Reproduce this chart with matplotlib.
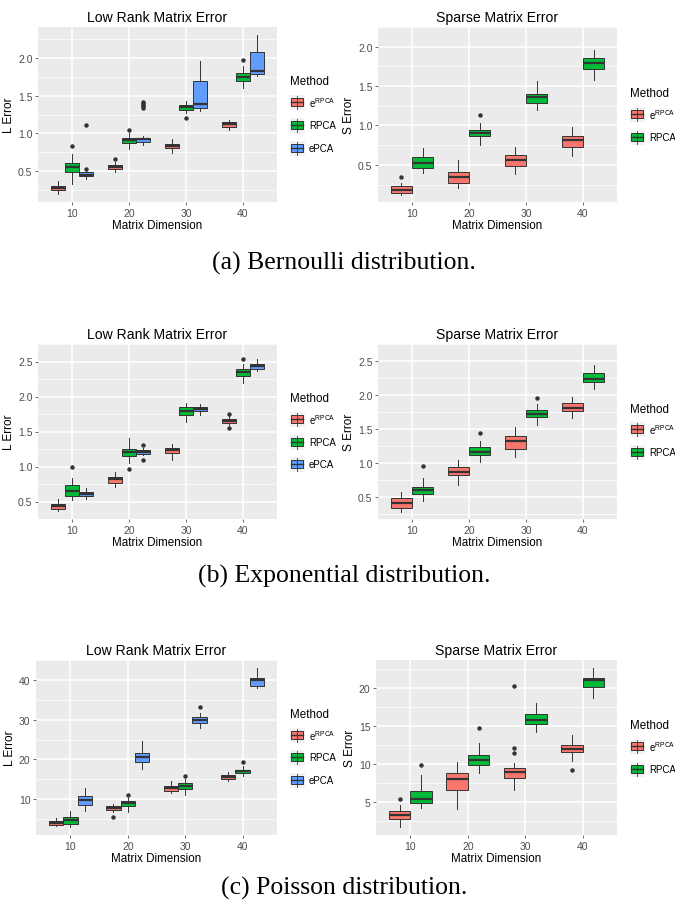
import matplotlib
matplotlib.use('Agg')
import matplotlib.pyplot as plt
from matplotlib.patches import Rectangle
from matplotlib.lines import Line2D

plt.rcParams['font.family'] = ['Liberation Sans', 'DejaVu Sans']
plt.rcParams['mathtext.fontset'] = 'custom'
plt.rcParams['mathtext.rm'] = 'Liberation Sans'

W, H = 675, 903

dims = ['10', '20', '30', '40']
colors = {'eRPCA': '#F8766D', 'RPCA': '#00BA38', 'ePCA': '#619CFF'}
labels = {'eRPCA': r'$\mathregular{e^{RPCA}}$', 'RPCA': 'RPCA', 'ePCA': 'ePCA'}

# box stats per dimension: (whisker low, q1, median, q3, whisker high)
bern_L = {
    'eRPCA': [(0.19, 0.24, 0.27, 0.30, 0.36), (0.48, 0.52, 0.55, 0.58, 0.62),
              (0.74, 0.80, 0.83, 0.856, 0.92), (1.05, 1.09, 1.12, 1.15, 1.18)],
    'RPCA': [(0.33, 0.48, 0.55, 0.61, 0.72), (0.79, 0.865, 0.91, 0.94, 1.00),
             (1.27, 1.31, 1.35, 1.377, 1.43), (1.60, 1.70, 1.755, 1.80, 1.89)],
    'ePCA': [(0.39, 0.43, 0.45, 0.48, 0.50), (0.85, 0.885, 0.92, 0.94, 0.96),
             (1.30, 1.34, 1.385, 1.69, 1.96), (1.76, 1.79, 1.83, 2.08, 2.31)],
}
bern_L_out = {
    'eRPCA': [[], [0.66], [], []],
    'RPCA': [[0.83], [1.04], [1.21], [1.97]],
    'ePCA': [[0.53, 1.11], [1.34, 1.36, 1.38, 1.40, 1.42], [], []],
}

bern_S = {
    'eRPCA': [(0.12, 0.145, 0.18, 0.23, 0.27), (0.20, 0.27, 0.34, 0.415, 0.56),
              (0.38, 0.48, 0.56, 0.62, 0.72), (0.615, 0.72, 0.81, 0.87, 0.975)],
    'RPCA': [(0.40, 0.465, 0.52, 0.597, 0.71), (0.755, 0.86, 0.90, 0.948, 1.03),
             (1.19, 1.29, 1.36, 1.40, 1.56), (1.58, 1.72, 1.79, 1.857, 1.96)],
}
bern_S_out = {
    'eRPCA': [[0.345], [], [], []],
    'RPCA': [[], [1.13], [], []],
}

expo_L = {
    'eRPCA': [(0.36, 0.40, 0.44, 0.47, 0.53), (0.71, 0.77, 0.815, 0.85, 0.92),
              (1.10, 1.19, 1.235, 1.26, 1.32), (1.59, 1.617, 1.65, 1.676, 1.72)],
    'RPCA': [(0.52, 0.58, 0.655, 0.73, 0.83), (1.055, 1.145, 1.205, 1.25, 1.41),
             (1.63, 1.74, 1.79, 1.845, 1.905), (2.20, 2.29, 2.345, 2.395, 2.46)],
    'ePCA': [(0.53, 0.578, 0.61, 0.633, 0.69), (1.16, 1.18, 1.205, 1.23, 1.27),
             (1.74, 1.79, 1.827, 1.855, 1.90), (2.36, 2.395, 2.43, 2.46, 2.54)],
}
expo_L_out = {
    'eRPCA': [[], [], [], [1.543, 1.754]],
    'RPCA': [[1.0], [0.97], [], [2.53]],
    'ePCA': [[], [1.10, 1.31], [], []],
}

expo_S = {
    'eRPCA': [(0.28, 0.33, 0.41, 0.486, 0.563), (0.667, 0.817, 0.86, 0.94, 1.04),
              (1.08, 1.21, 1.32, 1.39, 1.527), (1.654, 1.767, 1.80, 1.88, 1.966)],
    'RPCA': [(0.44, 0.545, 0.60, 0.645, 0.78), (1.015, 1.12, 1.156, 1.24, 1.32),
             (1.56, 1.672, 1.717, 1.776, 1.87), (2.09, 2.19, 2.24, 2.32, 2.44)],
}
expo_S_out = {
    'eRPCA': [[], [], [], []],
    'RPCA': [[0.95], [1.435], [1.957], []],
}

pois_L = {
    'eRPCA': [(3.2, 3.57, 4.07, 4.49, 5.4), (6.74, 7.33, 7.83, 8.25, 8.75),
              (11.5, 12.09, 12.76, 13.26, 14.68), (14.68, 15.1, 15.68, 16.1, 16.77)],
    'RPCA': [(3.0, 3.82, 4.9, 5.49, 7.16), (6.9, 8.41, 9.0, 9.58, 10.25),
             (11.09, 12.6, 13.26, 14.1, 15.1), (15.76, 16.5, 17.0, 17.44, 18.4)],
    'ePCA': [(7.16, 8.58, 9.83, 10.75, 12.76), (17.6, 19.27, 20.5, 21.5, 24.7),
             (27.8, 29.13, 29.9, 30.55, 31.8), (38.07, 38.5, 39.9, 40.4, 42.9)],
}
pois_L_out = {
    'eRPCA': [[], [5.49], [], []],
    'RPCA': [[], [11.17], [15.93], [19.27]],
    'ePCA': [[], [], [33.2], []],
}

pois_S = {
    'eRPCA': [(1.67, 2.76, 3.25, 3.77, 4.52), (3.99, 6.54, 7.94, 8.8, 10.26),
              (6.49, 8.16, 8.9, 9.47, 10.13), (10.35, 11.58, 11.97, 12.46, 13.73)],
    'RPCA': [(4.2, 4.87, 5.3, 6.4, 8.46), (8.8, 9.82, 10.5, 11.1, 12.68),
             (14.17, 15.2, 15.75, 16.5, 17.94), (18.6, 20.13, 21.0, 21.3, 22.6)],
}
pois_S_out = {
    'eRPCA': [[5.3], [], [11.45, 12.1, 20.2], [9.17]],
    'RPCA': [[9.78], [14.65], [], []],
}

EDGE = '#333333'


def draw_panel(rect, stats, outs, title, ylabel, yticks):
    ax = fig.add_axes(rect)
    ax.set_facecolor('#EBEBEB')
    methods = list(stats)
    n = len(methods)
    w = 0.75 / n
    lo_all, hi_all = [], []
    for j, m in enumerate(methods):
        for i in range(len(dims)):
            lo, q1, med, q3, hi = stats[m][i]
            fl = outs[m][i]
            lo_all += [lo] + fl
            hi_all += [hi] + fl
            pos = i + 1 - 0.375 + w * (j + 0.5)
            ax.bxp([dict(whislo=lo, q1=q1, med=med, q3=q3, whishi=hi, fliers=fl)],
                   positions=[pos], widths=w, patch_artist=True, showcaps=False,
                   manage_ticks=False,
                   boxprops=dict(facecolor=colors[m], edgecolor=EDGE, lw=0.7),
                   medianprops=dict(color=EDGE, lw=1.6),
                   whiskerprops=dict(color=EDGE, lw=0.7),
                   flierprops=dict(marker='o', markersize=3.2, markerfacecolor=EDGE,
                                   markeredgecolor='none'),
                   zorder=3)
    # ggplot-style 5% expansion of the data range
    lo, hi = min(lo_all), max(hi_all)
    pad = (hi - lo) * 0.05
    ax.set_ylim(lo - pad, hi + pad)
    ax.set_xlim(0.4, len(dims) + 0.6)
    ax.set_xticks(range(1, len(dims) + 1))
    ax.set_xticklabels(dims)
    ax.set_yticks(yticks)
    ax.set_yticklabels(['%g' % t if t >= 5 else '%.1f' % t for t in yticks])
    step = yticks[1] - yticks[0]
    minors = [yticks[0] - step / 2] + [t + step / 2 for t in yticks]
    ax.set_yticks(minors, minor=True)
    ax.tick_params(axis='y', which='minor', length=0)
    ax.grid(True, which='major', color='white', lw=1.1, zorder=0)
    ax.grid(True, which='minor', axis='y', color='white', lw=0.5, zorder=0)
    ax.set_axisbelow(True)
    for s in ax.spines.values():
        s.set_visible(False)
    ax.tick_params(which='major', length=2.5, width=0.5, color=EDGE,
                   labelsize=7.5, labelcolor='#4D4D4D', pad=1.5)
    ax.set_title(title, fontsize=10.1, pad=4)
    ax.set_xlabel('Matrix Dimension', fontsize=8.4, labelpad=1)
    ax.set_ylabel(ylabel, fontsize=8.6, labelpad=2)
    return methods


def draw_legend(methods, x, y_title, y_keys):
    fig.text(x / W, 1 - y_title / H, 'Method', fontsize=8.4, va='center')
    for y, m in zip(y_keys, methods):
        cx, cy = x + 7, y
        fig.patches.append(Rectangle(((cx - 7.5) / W, 1 - (cy + 7.5) / H), 15 / W, 15 / H,
                                     transform=fig.transFigure, fc='#F2F2F2', ec='none'))
        fig.lines.append(Line2D([cx / W, cx / W], [1 - (cy + 6.5) / H, 1 - (cy - 6.5) / H],
                                transform=fig.transFigure, color=EDGE, lw=0.6))
        fig.patches.append(Rectangle(((cx - 6) / W, 1 - (cy + 4) / H), 12 / W, 8 / H,
                                     transform=fig.transFigure, fc=colors[m], ec=EDGE, lw=0.7))
        fig.lines.append(Line2D([(cx - 6) / W, (cx + 6) / W], [1 - cy / H, 1 - cy / H],
                                transform=fig.transFigure, color=EDGE, lw=1.0))
        fig.text((x + 19) / W, 1 - y / H, labels[m], fontsize=7.0, va='center')


def px_rect(x0, y0, x1, y1):
    return [x0 / W, 1 - y1 / H, (x1 - x0) / W, (y1 - y0) / H]


fig = plt.figure(figsize=(W / 100, H / 100), dpi=100)

m = draw_panel(px_rect(38, 28, 277, 203), bern_L, bern_L_out, 'Low Rank Matrix Error',
               'L Error', [0.5, 1.0, 1.5, 2.0])
draw_legend(m, 290, 82, [103, 126, 149])
m = draw_panel(px_rect(378, 28, 617, 203), bern_S, bern_S_out, 'Sparse Matrix Error',
               'S Error', [0.5, 1.0, 1.5, 2.0])
draw_legend(m, 630, 94, [115, 138])

m = draw_panel(px_rect(38, 345, 277, 520), expo_L, expo_L_out, 'Low Rank Matrix Error',
               'L Error', [0.5, 1.0, 1.5, 2.0, 2.5])
draw_legend(m, 290, 399, [420, 443, 465])
m = draw_panel(px_rect(378, 345, 617, 520), expo_S, expo_S_out, 'Sparse Matrix Error',
               'S Error', [0.5, 1.0, 1.5, 2.0, 2.5])
draw_legend(m, 630, 410, [430, 453])

m = draw_panel(px_rect(36, 661, 277, 836), pois_L, pois_L_out, 'Low Rank Matrix Error',
               'L Error', [10, 20, 30, 40])
draw_legend(m, 290, 715, [736, 758, 781])
m = draw_panel(px_rect(376, 661, 617, 836), pois_S, pois_S_out, 'Sparse Matrix Error',
               'S Error', [5, 10, 15, 20])
draw_legend(m, 630, 726, [747, 770])

captions = ['(a) Bernoulli distribution.', '(b) Exponential distribution.',
            '(c) Poisson distribution.']
for cap, y in zip(captions, [263, 576, 888]):
    fig.text(344 / W, 1 - y / H, cap, fontsize=18.5, family='Liberation Serif',
             ha='center', va='center')

fig.savefig('out.png', dpi=100)
